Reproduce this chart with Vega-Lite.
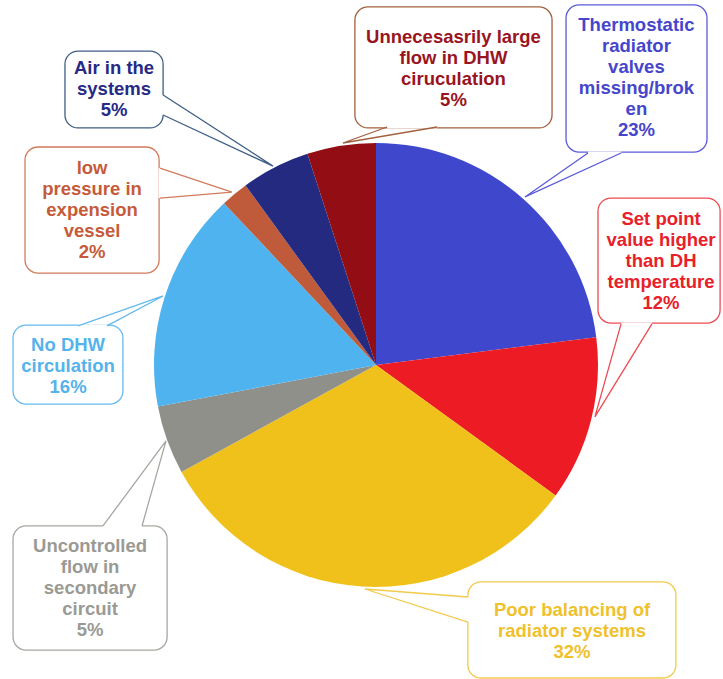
{
  "$schema": "https://vega.github.io/schema/vega-lite/v6.json",
  "width": 723,
  "height": 679,
  "padding": 0,
  "autosize": {"type": "none"},
  "background": "white",
  "config": {"view": {"stroke": null}},
  "datasets": {
    "slices": [
      {"cat": "Thermostatic", "ord": 1, "value": 23},
      {"cat": "SetPoint", "ord": 2, "value": 12},
      {"cat": "Poor", "ord": 3, "value": 32},
      {"cat": "Uncontrolled", "ord": 4, "value": 5},
      {"cat": "NoDHW", "ord": 5, "value": 16},
      {"cat": "LowPressure", "ord": 6, "value": 2},
      {"cat": "Air", "ord": 7, "value": 5},
      {"cat": "Unnecessary", "ord": 8, "value": 5}
    ],
    "boxes": [
      {"cat": "Unnecessary", "x1": -0.095, "x2": 0.793, "y1": 1.613, "y2": 1.068, "tx": 0.349, "ty": 1.477, "label": "Unnecesasrily large\nflow in DHW\nciruculation\n5%"},
      {"cat": "Thermostatic", "x1": 0.856, "x2": 1.491, "y1": 1.622, "y2": 0.959, "tx": 1.173, "ty": 1.532, "label": "Thermostatic\nradiator\nvalves\nmissing/brok\nen\n23%"},
      {"cat": "SetPoint", "x1": 1.0, "x2": 1.55, "y1": 0.752, "y2": 0.189, "tx": 1.284, "ty": 0.658, "label": "Set point\nvalue higher\nthan DH\ntemperature\n12%"},
      {"cat": "Air", "x1": -1.401, "x2": -0.959, "y1": 1.414, "y2": 1.068, "tx": -1.18, "ty": 1.338, "label": "Air in the\nsystems\n5%"},
      {"cat": "LowPressure", "x1": -1.581, "x2": -0.977, "y1": 0.982, "y2": 0.414, "tx": -1.279, "ty": 0.887, "label": "low\npressure in\nexpension\nvessel\n2%"},
      {"cat": "NoDHW", "x1": -1.635, "x2": -1.14, "y1": 0.18, "y2": -0.176, "tx": -1.387, "ty": 0.09, "label": "No DHW\ncirculation\n16%"},
      {"cat": "Uncontrolled", "x1": -1.635, "x2": -0.941, "y1": -0.725, "y2": -1.284, "tx": -1.288, "ty": -0.815, "label": "Uncontrolled\nflow in\nsecondary\ncircuit\n5%"},
      {"cat": "Poor", "x1": 0.414, "x2": 1.351, "y1": -0.977, "y2": -1.41, "tx": 0.883, "ty": -1.104, "label": "Poor balancing of\nradiator systems\n32%"}
    ],
    "wedges": [
      {"cat": "Unnecessary", "ord": 1, "x": 0.05, "y": 1.072},
      {"cat": "Unnecessary", "ord": 2, "x": -0.149, "y": 1.0},
      {"cat": "Unnecessary", "ord": 3, "x": 0.275, "y": 1.072},
      {"cat": "Thermostatic", "ord": 1, "x": 0.955, "y": 0.955},
      {"cat": "Thermostatic", "ord": 2, "x": 0.671, "y": 0.757},
      {"cat": "Thermostatic", "ord": 3, "x": 1.104, "y": 0.955},
      {"cat": "SetPoint", "ord": 1, "x": 1.104, "y": 0.185},
      {"cat": "SetPoint", "ord": 2, "x": 0.986, "y": -0.234},
      {"cat": "SetPoint", "ord": 3, "x": 1.243, "y": 0.185},
      {"cat": "Air", "ord": 1, "x": -0.959, "y": 1.216},
      {"cat": "Air", "ord": 2, "x": -0.464, "y": 0.896},
      {"cat": "Air", "ord": 3, "x": -0.959, "y": 1.126},
      {"cat": "LowPressure", "ord": 1, "x": -0.973, "y": 0.887},
      {"cat": "LowPressure", "ord": 2, "x": -0.649, "y": 0.779},
      {"cat": "LowPressure", "ord": 3, "x": -0.973, "y": 0.752},
      {"cat": "NoDHW", "ord": 1, "x": -1.342, "y": 0.176},
      {"cat": "NoDHW", "ord": 2, "x": -0.959, "y": 0.311},
      {"cat": "NoDHW", "ord": 3, "x": -1.212, "y": 0.176},
      {"cat": "Uncontrolled", "ord": 1, "x": -1.23, "y": -0.725},
      {"cat": "Uncontrolled", "ord": 2, "x": -0.946, "y": -0.342},
      {"cat": "Uncontrolled", "ord": 3, "x": -1.054, "y": -0.725},
      {"cat": "Poor", "ord": 1, "x": 0.414, "y": -1.045},
      {"cat": "Poor", "ord": 2, "x": -0.05, "y": -1.009},
      {"cat": "Poor", "ord": 3, "x": 0.414, "y": -1.158}
    ]
  },
  "layer": [
    {
      "data": {"name": "slices"},
      "mark": {
        "type": "arc",
        "x": {"expr": "scale('x', 0)"},
        "y": {"expr": "scale('y', 0)"},
        "outerRadius": {"expr": "scale('x', 1) - scale('x', 0)"}
      },
      "encoding": {
        "theta": {"field": "value", "type": "quantitative", "stack": true},
        "order": {"field": "ord", "type": "quantitative"},
        "color": {
          "field": "cat", "type": "nominal", "legend": null,
          "scale": {
            "domain": ["Thermostatic", "SetPoint", "Poor", "Uncontrolled", "NoDHW", "LowPressure", "Air", "Unnecessary"],
            "range": ["#3F48CC", "#ED1C24", "#EFC11A", "#8F908A", "#4FB3EF", "#BF5B3A", "#232A80", "#930D14"]
          }
        }
      }
    },
    {
      "data": {"name": "boxes"},
      "mark": {"type": "rect", "fill": "white", "cornerRadius": 13, "strokeWidth": 1.3},
      "encoding": {
        "x": {"field": "x1", "type": "quantitative", "axis": null, "scale": {"domain": [-1.6937, 1.5631], "nice": false, "zero": false}},
        "x2": {"field": "x2"},
        "y": {"field": "y1", "type": "quantitative", "axis": null, "scale": {"domain": [-1.4144, 1.6441], "nice": false, "zero": false}},
        "y2": {"field": "y2"},
        "stroke": {
          "field": "cat", "type": "nominal", "legend": null,
          "scale": {
            "domain": ["Thermostatic", "SetPoint", "Poor", "Uncontrolled", "NoDHW", "LowPressure", "Air", "Unnecessary"],
            "range": ["#5B5BD9", "#EE4A52", "#F1CA4E", "#A7A7A1", "#64BAEE", "#D27B5D", "#3F5F86", "#A2603F"]
          }
        }
      }
    },
    {
      "data": {"name": "wedges"},
      "transform": [{"filter": "datum.ord != 2"}],
      "mark": {"type": "line", "stroke": "white", "strokeWidth": 3},
      "encoding": {
        "x": {"field": "x", "type": "quantitative"},
        "y": {"field": "y", "type": "quantitative"},
        "order": {"field": "ord", "type": "quantitative"},
        "detail": {"field": "cat", "type": "nominal"}
      }
    },
    {
      "data": {"name": "wedges"},
      "mark": {"type": "line", "strokeWidth": 1.3, "strokeJoin": "miter"},
      "encoding": {
        "x": {"field": "x", "type": "quantitative"},
        "y": {"field": "y", "type": "quantitative"},
        "order": {"field": "ord", "type": "quantitative"},
        "detail": {"field": "cat", "type": "nominal"},
        "stroke": {"field": "cat", "type": "nominal", "legend": null}
      }
    },
    {
      "data": {"name": "boxes"},
      "mark": {"type": "text", "font": "Liberation Sans", "fontWeight": "bold", "fontSize": 18.5, "lineHeight": 21, "lineBreak": "\n", "align": "center", "baseline": "middle"},
      "encoding": {
        "x": {"field": "tx", "type": "quantitative"},
        "y": {"field": "ty", "type": "quantitative"},
        "text": {"field": "label", "type": "nominal"},
        "fill": {
          "field": "cat", "type": "nominal", "legend": null,
          "scale": {
            "domain": ["Thermostatic", "SetPoint", "Poor", "Uncontrolled", "NoDHW", "LowPressure", "Air", "Unnecessary"],
            "range": ["#4646CC", "#E8202A", "#EFC12C", "#9A9A94", "#55B3EC", "#C55B3A", "#262A85", "#99141E"]
          }
        }
      }
    }
  ]
}
